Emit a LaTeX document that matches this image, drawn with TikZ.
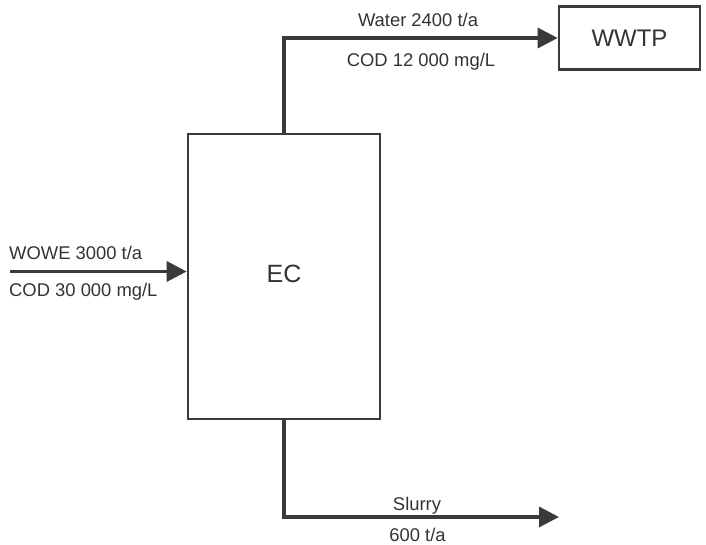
\documentclass[tikz,border=0pt]{standalone}
\usepackage{fontspec}
\setmainfont{Liberation Sans}
\usetikzlibrary{arrows.meta,positioning}
\definecolor{linegray}{HTML}{3A3A3A}
\definecolor{textgray}{HTML}{333333}
\tikzset{
    unit/.style={draw=linegray, line width=2.6pt, text=textgray, font=\fontsize{25}{28}\selectfont},
    stream/.style={draw=linegray, line width=3.2pt, -{Triangle[length=20pt,width=20pt]}},
    lbl/.style={text=textgray, font=\fontsize{18.4}{21}\selectfont, inner sep=0pt, anchor=base}
}
\begin{document}
\begin{tikzpicture}[x=1pt, y=-1pt]
    \useasboundingbox (0,0) rectangle (706,545);
    % units
    \node[unit, minimum width=192pt, minimum height=285pt] (ec) at (284,276.5) {};
    \node[textgray, font=\fontsize{25}{28}\selectfont, anchor=base] (eclbl) at (284,282.7) {EC};
    \node[unit, minimum width=141pt, minimum height=63pt, font=\fontsize{24}{28}\selectfont] (wwtp) at (629.5,38) {WWTP};
    % streams
    \coordinate (feed) at (10,271.5);
    \coordinate (slurryout) at (559,517);
    \draw[stream] (feed) -- (feed -| ec.west);
    \draw[stream] (ec.north) |- (wwtp.west);
    \draw[stream] (ec.south) |- (slurryout);
    % stream labels
    \node[lbl, anchor=base west] (feedlbl) at (9,259.3) {WOWE 3000 t/a};
    \node[lbl, anchor=base west] (feedcod) at (9,296.7) {COD 30 000 mg/L};
    \node[lbl] (waterlbl) at (418,26.7) {Water 2400 t/a};
    \node[lbl] (watercod) at (421,66.7) {COD 12 000 mg/L};
    \node[lbl] (slurrylbl) at (417,510) {Slurry};
    \node[lbl] (slurryamt) at (417.5,541) {600 t/a};
\end{tikzpicture}
\end{document}
